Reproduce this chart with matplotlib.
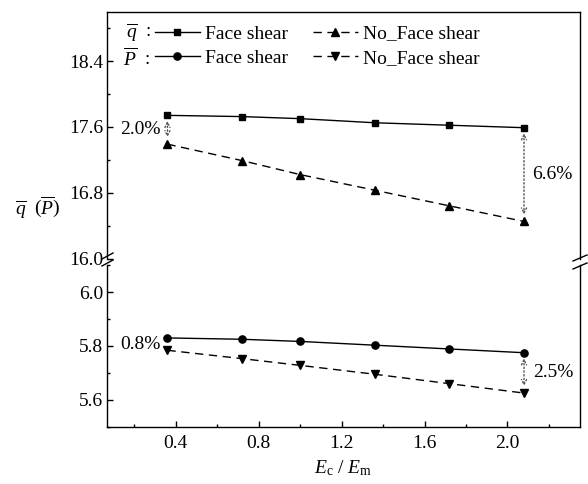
import matplotlib
matplotlib.use("Agg")
import matplotlib.pyplot as plt
from matplotlib.lines import Line2D
from matplotlib.ticker import MultipleLocator

plt.rcParams['font.family'] = ['Liberation Serif', 'DejaVu Serif']
plt.rcParams['mathtext.fontset'] = 'custom'
plt.rcParams['mathtext.rm'] = 'Liberation Serif'
plt.rcParams['mathtext.it'] = 'Liberation Serif:italic'
plt.rcParams['font.size'] = 14

# ---- data ----
ratio = [0.36, 0.72, 1.00, 1.36, 1.72, 2.08]
q_face = [17.74, 17.725, 17.70, 17.65, 17.62, 17.59]
q_noface = [17.39, 17.19, 17.02, 16.83, 16.64, 16.45]
p_face = [5.830, 5.825, 5.817, 5.803, 5.789, 5.775]
p_noface = [5.784, 5.753, 5.728, 5.695, 5.660, 5.625]
pct_labels = ["2.0%", "6.6%", "0.8%", "2.5%"]

W, H = 588, 484
fig = plt.figure(figsize=(W / 100, H / 100), dpi=100)

def fx(px):
    return px / W

def fy(py):
    return 1 - py / H

L, R = 107.3, 580
ax_top = fig.add_axes([fx(L), fy(258.5), fx(R) - fx(L), fy(11.7) - fy(258.5)])
ax_bot = fig.add_axes([fx(L), fy(426.7), fx(R) - fx(L), fy(265.3) - fy(426.7)])

ax_top.set_ylim(16.0, 19.0)
ax_bot.set_ylim(5.5, 6.1)
for ax in (ax_top, ax_bot):
    ax.set_xlim(0.07, 2.35)
    ax.set_facecolor('none')
    for s in ax.spines.values():
        s.set_linewidth(1.0)
    ax.tick_params(axis='both', which='both', direction='in', right=False, top=False,
                   width=1.0, labelsize=14)
    ax.tick_params(which='major', length=4.5)
    ax.tick_params(which='minor', length=2.5)
    ax.tick_params(axis='y', pad=3)
    ax.xaxis.set_major_locator(MultipleLocator(0.4))
    ax.xaxis.set_minor_locator(MultipleLocator(0.2))

ax_top.spines['bottom'].set_visible(False)
ax_top.tick_params(axis='x', which='both', bottom=False, labelbottom=False)
ax_top.yaxis.set_minor_locator(MultipleLocator(0.4))
ax_top.set_yticks([16.0, 16.8, 17.6, 18.4])
ax_top.set_yticklabels(["16.0", "16.8", "17.6", "18.4"])

ax_bot.spines['top'].set_visible(False)
ax_bot.set_yticks([5.6, 5.8, 6.0])
ax_bot.set_yticklabels(["5.6", "5.8", "6.0"])
ax_bot.yaxis.set_minor_locator(MultipleLocator(0.1))
ax_bot.tick_params(axis='x', pad=6)
ax_bot.set_xticks([0.4, 0.8, 1.2, 1.6, 2.0])
ax_bot.set_xticklabels(["0.4", "0.8", "1.2", "1.6", "2.0"])

dash = (0, (6, 4))
h1, = ax_top.plot(ratio, q_face, '-', color='black', lw=1.0, marker='s', ms=4.5)
h3, = ax_top.plot(ratio, q_noface, linestyle=dash, color='black', lw=1.0, marker='^', ms=5.8)
h2, = ax_bot.plot(ratio, p_face, '-', color='black', lw=1.0, marker='o', ms=5.2)
h4, = ax_bot.plot(ratio, p_noface, linestyle=dash, color='black', lw=1.0, marker='v', ms=5.8)

# arrows
arrow_kw = dict(arrowstyle='<->', linestyle=':', color='#555555', lw=1.0,
                shrinkA=4, shrinkB=5, mutation_scale=9)
ax_top.annotate('', xy=(ratio[0], q_noface[0]), xytext=(ratio[0], q_face[0]), arrowprops=arrow_kw)
ax_top.annotate('', xy=(ratio[-1], q_noface[-1]), xytext=(ratio[-1], q_face[-1]), arrowprops=arrow_kw)
ax_bot.annotate('', xy=(ratio[-1], p_noface[-1]), xytext=(ratio[-1], p_face[-1]), arrowprops=arrow_kw)

ax_top.text(ratio[0] - 0.035, (q_face[0] + q_noface[0]) / 2, pct_labels[0], ha='right', va='center', fontsize=14)
ax_top.text(ratio[-1] + 0.04, (q_face[-1] + q_noface[-1]) / 2, pct_labels[1], ha='left', va='center', fontsize=14)
ax_bot.text(ratio[0] - 0.035, (p_face[0] + p_noface[0]) / 2, pct_labels[2], ha='right', va='center', fontsize=14)
ax_bot.text(ratio[-1] + 0.045, (p_face[-1] + p_noface[-1]) / 2, pct_labels[3], ha='left', va='center', fontsize=14)

# legend
leg = ax_top.legend([h1, h2, h3, h4], ["Face shear", "Face shear", "No_Face shear", "No_Face shear"],
                    ncol=2, loc='upper left', bbox_to_anchor=(fx(155), fy(25)),
                    bbox_transform=fig.transFigure, frameon=False, borderpad=0,
                    borderaxespad=0, handlelength=2.3, handletextpad=0.26,
                    columnspacing=1.3, labelspacing=0.36, fontsize=14, numpoints=1)
fig.text(fx(151), fy(33), r'$\overline{q}$  :', ha='right', va='center', fontsize=14)
fig.text(fx(151), fy(58), r'$\overline{P}$  :', ha='right', va='center', fontsize=14)

# axis labels
fig.text(fx(38), fy(207), r'$\overline{q}\ \ (\overline{P})$', ha='center', va='center', fontsize=14)
fig.text(fx(343), fy(468), r'$E_{\mathrm{c}}\ /\ E_{\mathrm{m}}$', ha='center', va='center', fontsize=14)

# break marks
def brk(x0, y0, x1, y1):
    fig.add_artist(Line2D([fx(x0), fx(x1)], [fy(y0), fy(y1)], color='black', lw=1.0,
                          transform=fig.transFigure))

brk(102, 259, 113, 253)
brk(102, 266, 113, 260)
brk(573, 261, 587, 255)
brk(573, 269, 587, 263)

fig.savefig("out.png", dpi=100)
